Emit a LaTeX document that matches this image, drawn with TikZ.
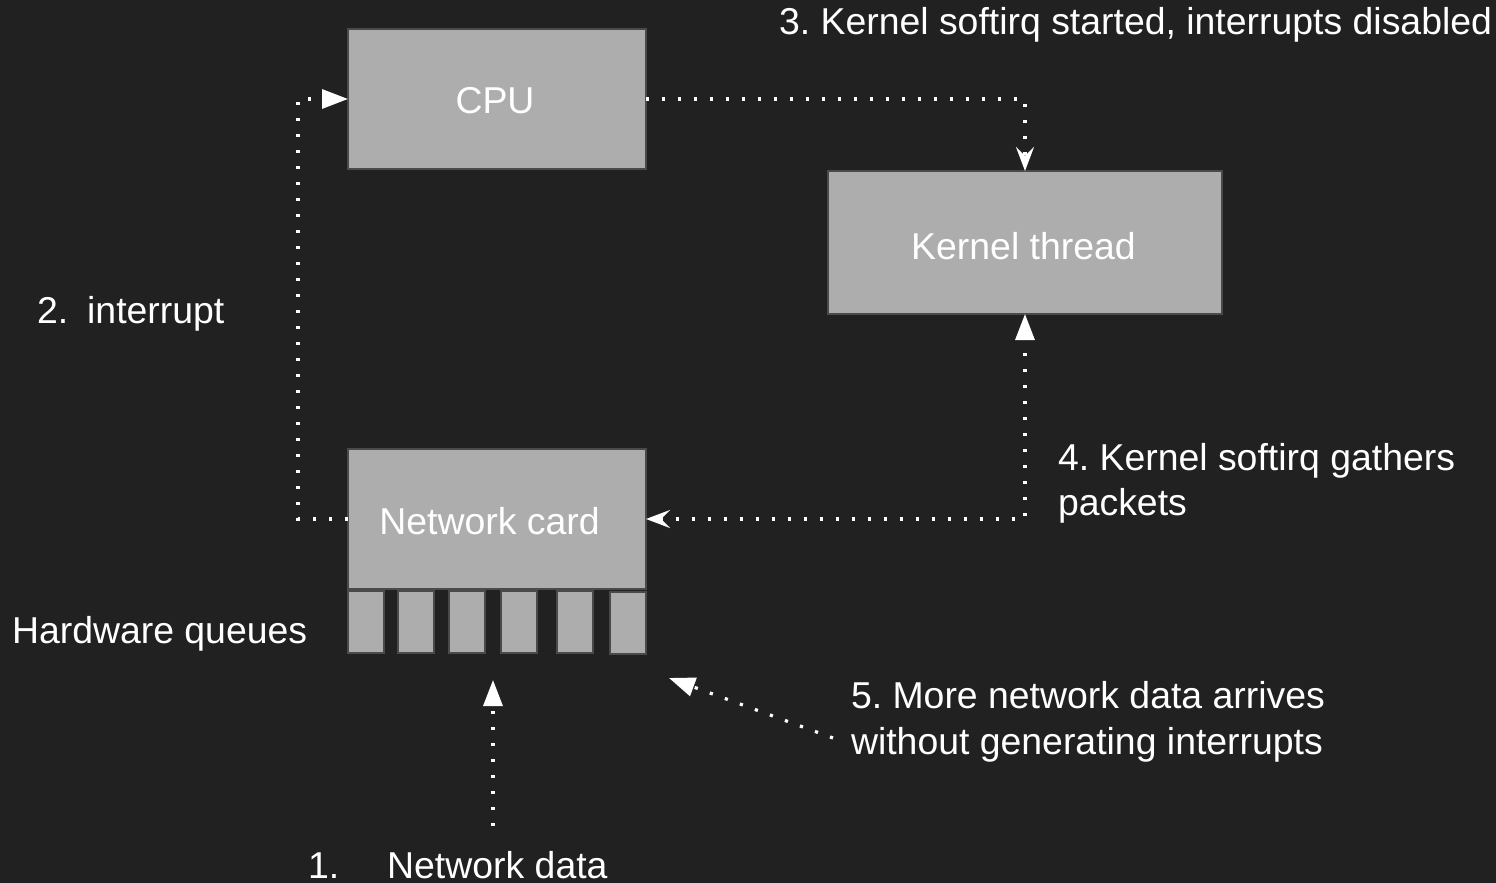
\documentclass[tikz,border=0pt]{standalone}
\usepackage{fontspec}
\setmainfont{Liberation Sans}
\usetikzlibrary{arrows.meta}
\definecolor{bgdark}{HTML}{212121}
\definecolor{boxgray}{HTML}{ADADAD}
\definecolor{boxedge}{HTML}{4A4A4A}
\tikzset{
  tri/.tip={Triangle[length=13pt, width=9.5pt]},
  stl/.tip={Stealth[length=12pt, width=9pt, inset=4.5pt]}
}
\frenchspacing
\begin{document}
\begin{tikzpicture}[x=0.5pt,y=-0.5pt,
  box/.style={draw=boxedge, line width=1pt, fill=boxgray, inner sep=0pt, outer sep=0pt},
  queue/.style={box, minimum width=18pt, minimum height=31pt},
  txt/.style={text=white, inner sep=0pt, outer sep=0pt, font=\fontsize{18.7pt}{23pt}\selectfont},
  conn/.style={draw=white, line width=1.6pt, line cap=butt, dash pattern=on 1.6pt off 6.4pt}
]
% page and background
\useasboundingbox (0,0) rectangle (1496,883);
\fill[bgdark] (0,0) rectangle (1496,883);

% boxes
\node[box, minimum width=149pt, minimum height=70pt] (cpu) at (497,99) {};
\node[box, minimum width=197pt, minimum height=71.5pt] (kt) at (1025,242.5) {};
\node[box, minimum width=149pt, minimum height=70pt] (nic) at (497,519) {};

% hardware queues below the card
\node[queue] (q1) at (366,622) {};
\node[queue] (q2) at (416,622) {};
\node[queue] (q3) at (467,622) {};
\node[queue] (q4) at (519,622) {};
\node[queue] (q5) at (575,622) {};
\node[queue] (q6) at (628,622.5) {};

% box captions
\node[txt, anchor=base] (cputxt) at (495,114) {CPU};
\node[txt, anchor=base] (kttxt) at (1023.5,260) {Kernel thread};
\node[txt, anchor=base] (nictxt) at (489.5,534) {Network card};

% free ends of the open connectors
\coordinate (datasrc) at (493,826);
\coordinate (datatip) at (493,680);
\coordinate (moresrc) at (833,738);
\coordinate (moretip) at (669,678);

% connectors
\draw[conn, -{tri}] (datasrc) -- (datatip);
\draw[conn, -{tri}] (nic.west) -- ++(-50,0) |- (cpu.west);
\draw[conn, -{stl}] (cpu.east) -| (kt.north);
\draw[conn, {stl}-{tri}] (nic.east) -- (nic.east -| kt.south) -- (kt.south);
\draw[conn, -{tri}] (moresrc) -- (moretip);

% step labels
\node[txt, anchor=base west] (l3) at (779,35) {3. Kernel softirq started, interrupts disabled};
\node[txt, anchor=base west] (l2) at (37,323) {2.\hspace{9.5pt}interrupt};
\node[txt, anchor=base west] (lhq) at (12,643) {Hardware queues};
\node[txt, anchor=base west] (l4a) at (1058,470) {4. Kernel softirq gathers};
\node[txt, anchor=base west] (l4b) at (1058,515) {packets};
\node[txt, anchor=base west] (l5a) at (851,708) {5. More network data arrives};
\node[txt, anchor=base west] (l5b) at (851,754) {without generating interrupts};
\node[txt, anchor=base west] (l1) at (308,878) {1.\hspace{24pt}Network data};
\end{tikzpicture}
\end{document}
